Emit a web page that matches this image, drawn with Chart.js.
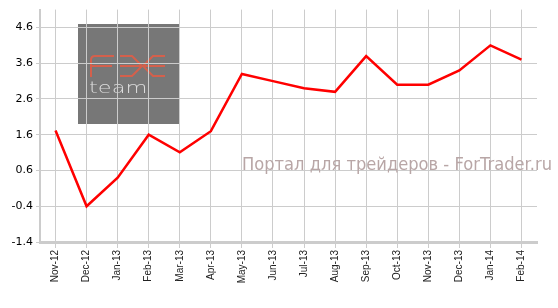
<!DOCTYPE html>
<html lang="ru">
<head>
<meta charset="UTF-8">
<title>ForTrader chart</title>
<script src="https://cdn.jsdelivr.net/npm/chart.js"></script>
<style>
  html, body { margin: 0; padding: 0; background: #fff; }
  #wrap { width: 558px; height: 308px; }
</style>
</head>
<body>
<div id="wrap"><canvas id="chart" width="558" height="308"></canvas></div>
<script>
const months = ['Nov-12', 'Dec-12', 'Jan-13', 'Feb-13', 'Mar-13', 'Apr-13', 'May-13', 'Jun-13',
                'Jul-13', 'Aug-13', 'Sep-13', 'Oct-13', 'Nov-13', 'Dec-13', 'Jan-14', 'Feb-14'];
const values = [1.72, -0.4, 0.4, 1.6, 1.11, 1.7, 3.3, 3.1, 2.9, 2.8, 3.8, 3.0, 3.0, 3.4, 4.1, 3.7];
const yTicks = [-1.4, -0.4, 0.6, 1.6, 2.6, 3.6, 4.6];

const gridGrey = '#cccccc';

// logo box + site caption behind the line
const watermark = {
    id: 'watermark',
    beforeDraw(chart) {
        const ctx = chart.ctx;
        ctx.save();
        ctx.fillStyle = '#777777';
        ctx.fillRect(78, 24, 101, 100);
        // "FX" drawn as thin strokes
        ctx.strokeStyle = '#d4604c';
        ctx.lineWidth = 2;
        ctx.beginPath();
        ctx.moveTo(91, 77); ctx.lineTo(91, 60);
        ctx.quadraticCurveTo(91, 56, 95, 56); ctx.lineTo(114, 56);
        ctx.moveTo(91, 66); ctx.lineTo(112, 66);
        // X
        ctx.moveTo(120, 56); ctx.lineTo(132, 56); ctx.lineTo(142, 66); ctx.lineTo(132, 76); ctx.lineTo(120, 76);
        ctx.moveTo(165, 56); ctx.lineTo(153, 56); ctx.lineTo(143, 66); ctx.lineTo(153, 76); ctx.lineTo(165, 76);
        ctx.moveTo(120, 66); ctx.lineTo(165, 66);
        ctx.stroke();
        // "team"
        ctx.save();
        ctx.translate(89, 93);
        ctx.scale(1.5, 1);
        ctx.fillStyle = '#dddddd';
        ctx.font = '200 15px "DejaVu Sans"';
        ctx.fillText('team', 0, 0);
        ctx.restore();
        ctx.restore();
    },
    beforeDatasetsDraw(chart) {
        const ctx = chart.ctx;
        ctx.save();
        ctx.fillStyle = '#b8a6a6';
        ctx.font = '17px "DejaVu Sans"';
        const txt = 'Портал для трейдеров - ForTrader.ru';
        const w = ctx.measureText(txt).width;
        ctx.translate(242, 170);
        ctx.scale(310 / w, 1);
        ctx.fillText(txt, 0, 0);
        ctx.restore();
    }
};

new Chart(document.getElementById('chart'), {
    type: 'line',
    data: {
        labels: months,
        datasets: [{
            data: values,
            borderColor: '#ff0000',
            borderWidth: 2.5,
            pointRadius: 0,
            tension: 0,
            fill: false
        }]
    },
    options: {
        responsive: false,
        animation: false,
        layout: { padding: { top: 4, right: 21, left: 0, bottom: 0 } },
        plugins: { legend: { display: false }, tooltip: { enabled: false } },
        scales: {
            x: {
                offset: true,
                grid: { offset: false, color: gridGrey, tickLength: 6 },
                border: { color: gridGrey, width: 3 },
                ticks: {
                    autoSkip: false,
                    minRotation: 90,
                    maxRotation: 90,
                    padding: 2,
                    color: '#222',
                    font: { family: '"Liberation Sans", Arial', size: 10 }
                },
                afterFit(scale) { scale.height = 66; }
            },
            y: {
                min: -1.4,
                max: 5.1,
                afterBuildTicks(scale) {
                    scale.ticks = yTicks.map(v => ({ value: v }));
                },
                grid: { color: gridGrey, tickLength: 4 },
                border: { color: gridGrey, width: 2 },
                ticks: {
                    padding: 3,
                    color: '#000',
                    font: { family: '"DejaVu Sans", Verdana', size: 11 },
                    callback: v => v.toFixed(1)
                },
                afterFit(scale) { scale.width = 40; }
            }
        }
    },
    plugins: [watermark]
});
</script>
</body>
</html>
